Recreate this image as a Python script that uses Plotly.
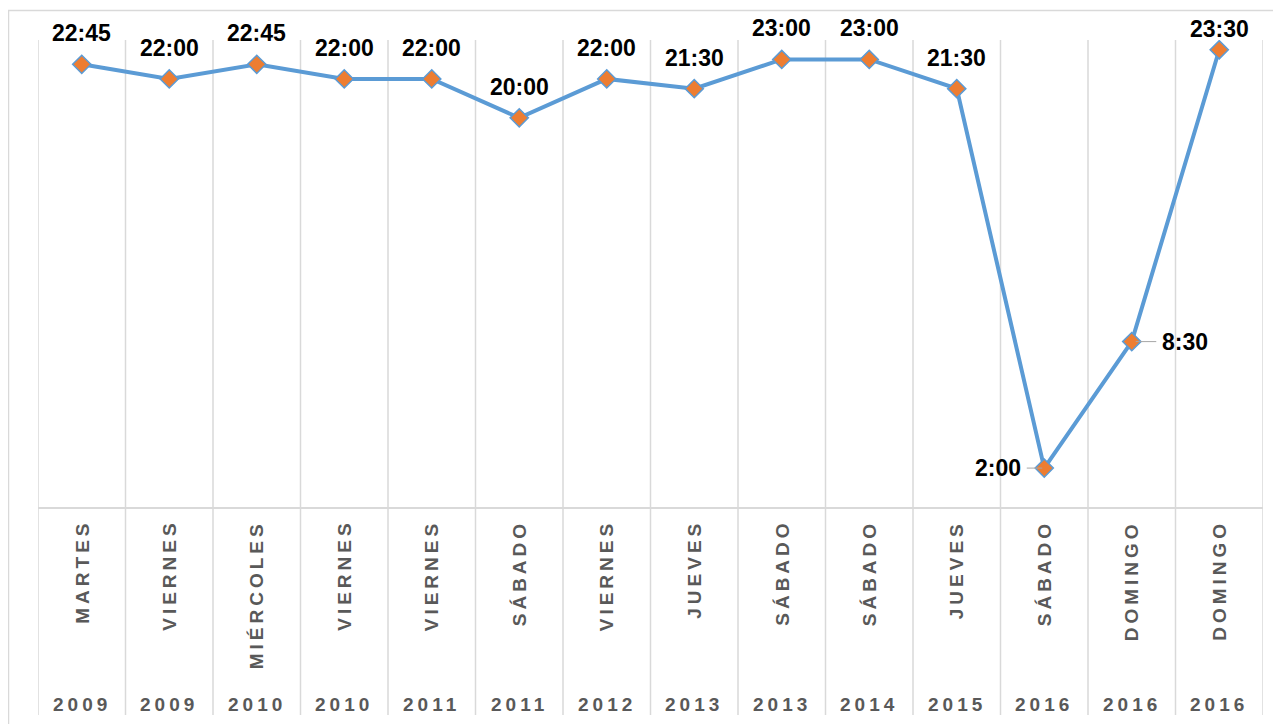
import plotly.graph_objects as go

days = ["MARTES", "VIERNES", "MIÉRCOLES", "VIERNES", "VIERNES", "SÁBADO", "VIERNES",
        "JUEVES", "SÁBADO", "SÁBADO", "JUEVES", "SÁBADO", "DOMINGO", "DOMINGO"]
years = ["2009", "2009", "2010", "2010", "2011", "2011", "2012",
         "2013", "2013", "2014", "2015", "2016", "2016", "2016"]
hours = [22.75, 22.0, 22.75, 22.0, 22.0, 20.0, 22.0, 21.5, 23.0, 23.0, 21.5, 2.0, 8.5, 23.5]


def fmt(h):
    hh = int(h)
    mm = int(round((h - hh) * 60))
    return f"{hh}:{mm:02d}"


OFF = 8  # page body margin
W, H = 1281 - OFF, 724 - OFF
PL, PR, PT, PB = 38, 1263, 40, 507  # absolute plot-area pixels
L, T = PL - OFF, PT - OFF
R = (W + OFF) - PR
B = (H + OFF) - PB
PW, PH = PR - PL, PB - PT


def py(p):  # absolute pixel y -> paper y
    return (PB - p) / PH


def px(p):  # absolute pixel x -> paper x
    return (p - PL) / PW


xs = list(range(len(hours)))
fig = go.Figure()
fig.add_trace(go.Scatter(
    x=xs, y=hours, mode="lines+markers",
    line=dict(color="#5b9bd5", width=4),
    marker=dict(symbol="diamond", size=14, color="#ed7d31",
                line=dict(color="#5b9bd5", width=1.5)),
    hoverinfo="skip", showlegend=False,
))

shapes = []
# chart frame
shapes.append(dict(type="rect", xref="paper", yref="paper",
                   x0=px(8.5), x1=px(1300), y0=py(740), y1=py(10.5),
                   line=dict(color="#d9d9d9", width=1.5), layer="below"))
# category dividers
for i in range(len(hours) + 1):
    shapes.append(dict(type="line", xref="x", yref="paper",
                       x0=i - 0.5, x1=i - 0.5, y0=py(715), y1=1,
                       line=dict(color="#d9d9d9", width=1.5), layer="below"))

ann = []
label_font = dict(family="Liberation Sans, Arial, sans-serif", size=23, color="#000000", weight="bold")
for i, h in enumerate(hours):
    txt = fmt(h)
    if i == 11:
        ann.append(dict(x=i, y=h, xref="x", yref="y", text=txt, showarrow=True,
                        arrowhead=0, arrowwidth=1, arrowcolor="#a6a6a6",
                        ax=-46, ay=0, standoff=2, startstandoff=4,
                        font=label_font))
    elif i == 12:
        ann.append(dict(x=i, y=h, xref="x", yref="y", text=txt, showarrow=True,
                        arrowhead=0, arrowwidth=1, arrowcolor="#a6a6a6",
                        ax=53, ay=0, standoff=4, startstandoff=4,
                        font=label_font))
    else:
        shift = 21 if i == 13 else 31
        ann.append(dict(x=i, y=h, xref="x", yref="y", text=txt, showarrow=False,
                        yshift=shift, yanchor="middle", font=label_font))

axis_font = dict(family="Liberation Sans, Arial, sans-serif", size=19, color="#595959", weight="bold")
for i, (d, yv) in enumerate(zip(days, years)):
    ann.append(dict(x=i, y=py(518), xref="x", yref="paper", showarrow=False,
                    text=f"<span style='letter-spacing:4px'>{d}</span>",
                    textangle=-90, yanchor="top", xanchor="center", font=axis_font))
    ann.append(dict(x=i, y=py(704), xref="x", yref="paper", showarrow=False,
                    text=f"<span style='letter-spacing:4px'>{yv}</span>",
                    yanchor="middle", xanchor="center", font=axis_font))

fig.update_layout(
    width=W, height=H,
    margin=dict(l=L, r=R, t=T, b=B),
    paper_bgcolor="#ffffff", plot_bgcolor="#ffffff",
    xaxis=dict(range=[-0.5, len(hours) - 0.5], showticklabels=False, showgrid=False,
               zeroline=False, showline=True, linecolor="#d9d9d9", linewidth=1.5, ticks=""),
    yaxis=dict(range=[0, 24], visible=False, showgrid=False, zeroline=False),
    shapes=shapes, annotations=ann,
)

fig.write_html("out.html")
